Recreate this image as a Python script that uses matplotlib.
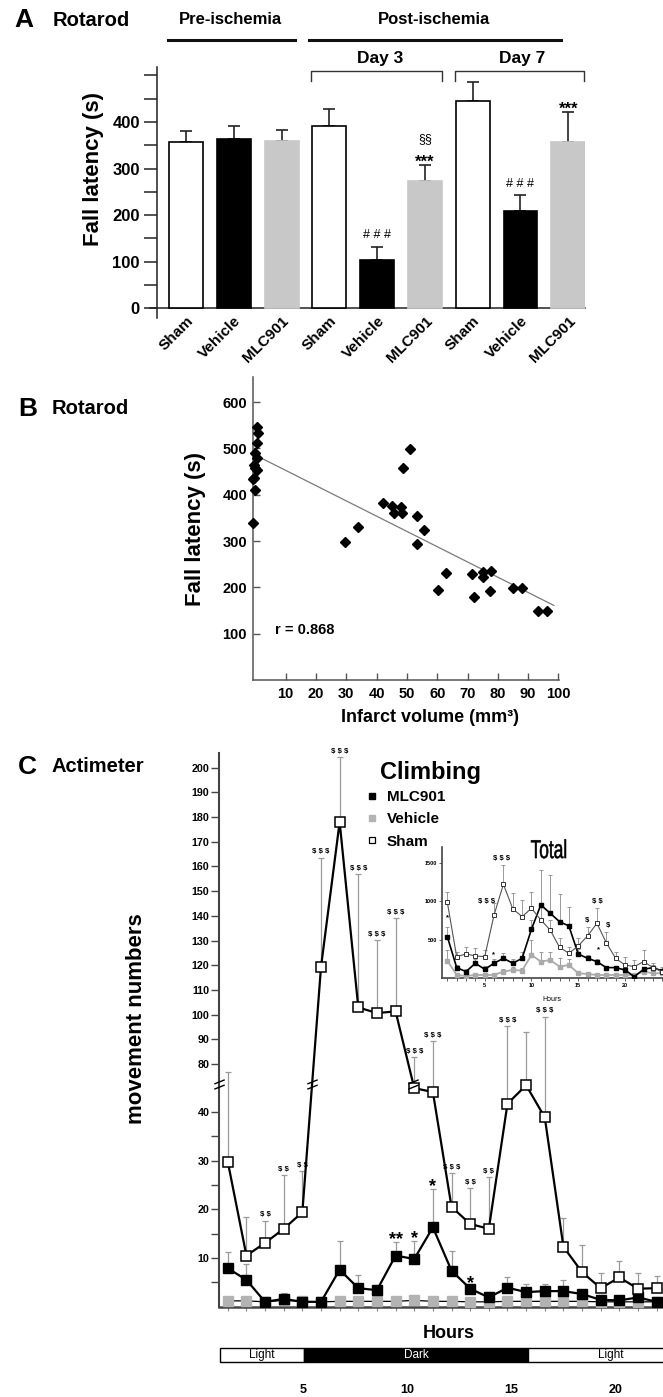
import numpy as np
import matplotlib
matplotlib.use("Agg")
import matplotlib.pyplot as plt
from matplotlib.font_manager import FontProperties
from matplotlib.lines import Line2D
from matplotlib.patches import PathPatch, Rectangle
from matplotlib.path import Path
from matplotlib.textpath import TextPath
from matplotlib.transforms import Affine2D, ScaledTranslation

W, H, DPI = 663, 1397, 100

# panel A: rotarod, fall latency per group
a_groups = ["Sham", "Vehicle", "MLC901"] * 3
a_means = [356, 363, 359, 391, 104, 274, 444, 209, 356]
a_sem = [25, 29, 24, 37, 28, 33, 42, 34, 65]
a_colors = ["white", "black", "#c8c8c8"] * 3
a_hash = [4, 7]
a_star = [5, 8]
a_sect = [5]

# panel B: fall latency vs infarct volume
b_volume = [0.5, 1.0, 0.5, 0.0, 0.5, -0.5, 0.0, 0.5, -0.5, -0.7, 0.0, -0.7,
            29.6, 34.0, 42.0, 45.0, 45.7, 47.9, 48.3, 48.6, 51.0, 53.2, 53.2,
            55.7, 60.4, 62.9, 71.6, 72.0, 75.0, 75.2, 77.8, 77.4, 84.9, 87.9,
            93.4, 96.1]
b_latency = [547, 533, 511, 490, 479, 464, 457, 453, 437, 433, 410, 338,
             298, 330, 382, 375, 361, 374, 361, 458, 499, 354, 293,
             323, 195, 231, 228, 180, 223, 234, 236, 193, 199, 199,
             150, 150]
b_fit_x = [0.4, 98.5]
b_fit_y = [484, 161]

# panel C: climbing per hour
hours = np.arange(1, 25)
sham = [29.8, 10.5, 13.1, 16.0, 19.4, 119.3, 178.0, 102.9, 100.6, 101.3, 44.9, 44.1,
        20.5, 17.0, 16.0, 41.7, 45.5, 38.9, 12.3, 7.1, 3.8, 6.0, 3.7, 3.8]
sham_err = [46.8, 7.9, 4.6, 11.1, 8.5, 44.3, 26.3, 53.9, 29.5, 37.8, 37.8, 45.2,
            6.9, 7.4, 10.7, 53.7, 47.6, 60.3, 6.0, 5.6, 3.1, 3.4, 3.2, 2.5]
mlc = [7.9, 5.5, 1.0, 1.6, 1.0, 1.0, 7.6, 3.8, 3.4, 10.5, 9.8, 16.3,
       7.4, 3.7, 1.9, 3.9, 3.0, 3.2, 3.2, 2.6, 1.4, 1.3, 1.9, 1.0]
mlc_err = [3.3, 3.3, 0.0, 1.2, 0.6, 0.0, 5.8, 2.7, 0.0, 2.7, 3.6, 7.8,
           4.0, 0.5, 1.1, 2.2, 1.7, 1.5, 2.2, 0.0, 0.0, 0.0, 0.0, 0.0]
veh = [1.2, 1.2, 1.0, 1.3, 1.1, 1.0, 1.1, 1.1, 1.1, 1.1, 1.3, 1.1,
       1.1, 1.0, 1.0, 1.1, 1.1, 1.1, 1.1, 1.1, 1.0, 1.0, 1.0, 1.0]
veh_err = [0.6, 0.5, 0.4, 1.4, 0.5, 0.4, 0.5, 0.4, 0.4, 0.4, 0.6, 0.5,
           0.5, 0.4, 0.4, 0.4, 0.4, 0.4, 0.5, 0.4, 0.4, 0.4, 0.4, 0.4]
sham_sig = {3: "$ $", 4: "$ $", 5: "$ $", 6: "$ $ $", 7: "$ $ $", 8: "$ $ $",
            9: "$ $ $", 10: "$ $ $", 11: "$ $ $", 12: "$ $ $", 13: "$ $ $",
            14: "$ $", 15: "$ $", 16: "$ $ $", 18: "$ $ $"}
mlc_sig = {10: "**", 11: "*", 12: "*", 14: "*"}

# inset: total movements per hour
tot_sham = [987, 281, 316, 290, 281, 823, 1221, 901, 801, 909, 758, 628,
            403, 325, 420, 550, 714, 463, 260, 173, 152, 217, 139, 87]
tot_sham_err = [139, 65, 87, 100, 87, 151, 251, 203, 217, 217, 195, 130,
                117, 86, 100, 121, 195, 143, 86, 108, 86, 151, 56, 65]
tot_mlc = [541, 139, 87, 195, 117, 195, 260, 195, 260, 637, 953, 845,
           736, 680, 316, 260, 217, 139, 139, 108, 22, 117, 139, 95]
tot_mlc_err = [121, 40, 30, 60, 40, 60, 70, 60, 80, 120, 454, 497,
               360, 251, 60, 40, 30, 20, 20, 20, 10, 30, 40, 20]
tot_veh = [229, 43, 30, 43, 43, 43, 87, 108, 100, 303, 217, 238,
           152, 173, 65, 56, 43, 43, 43, 43, 43, 87, 65, 65]
tot_veh_err = [139, 20, 20, 20, 20, 20, 40, 40, 40, 195, 130, 100,
               110, 80, 20, 20, 20, 20, 20, 20, 20, 30, 20, 20]
tot_marks = [(1.0, 792, "*"), (5.2, 996, "$ $ $"), (6.8, 1560, "$ $ $"),
             (5.9, 303, "*"), (15.9, 745, "$"), (17.0, 996, "$ $"),
             (18.2, 680, "$"), (17.2, 377, "*")]

# light / dark cycle strip
cycle_edges = [1.0, 5.05, 15.8, 23.8]
cycle_names = ["Light", "Dark", "Light"]
cycle_ticks = [5, 10, 15, 20]

# broken y axis of panel C
BRK_LO, BRK_HI, BRK_RATIO = 45.75, 71.9, 0.5072
_xp = np.array([-1e4, BRK_LO, BRK_HI, 1e4])
_fp = np.array([-1e4, BRK_LO, BRK_LO + 0.01, BRK_LO + 0.01 + (1e4 - BRK_HI) * BRK_RATIO])


def squash(v):
    return np.interp(v, _xp, _fp)


def unsquash(v):
    return np.interp(v, _fp, _xp)


plt.rcParams["font.family"] = ["Liberation Sans", "DejaVu Sans"]


def px_axes(fig, left, top, right, bottom):
    return fig.add_axes([left / W, 1 - bottom / H, (right - left) / W, (bottom - top) / H])


def px_text(fig, x, y, s, **kw):
    return fig.text(x / W, 1 - y / H, s, **kw)


def px_line(fig, xs, ys, **kw):
    fig.add_artist(Line2D([x / W for x in xs], [1 - y / H for y in ys],
                          transform=fig.transFigure, **kw))


def squeezed_text(fig, cx, cy, s, width, height):
    # narrow lettering: outline of the text stretched into a box, in pixels
    tp = TextPath((0, 0), s, size=100, prop=FontProperties(family="Liberation Sans"))
    bb = tp.get_extents()
    tr = (Affine2D().translate(-bb.x0 - bb.width / 2, -bb.y0 - bb.height / 2)
          .scale(width / bb.width, height / bb.height).translate(cx, H - cy))
    fig.add_artist(PathPatch(tp, transform=tr, facecolor="black", edgecolor="black", lw=0.4))


def bold_ticks(ax):
    for lab in ax.get_xticklabels() + ax.get_yticklabels():
        lab.set_fontweight("bold")


def draw_panel_a(fig):
    ax = px_axes(fig, 150, 67, 585, 318)
    x = np.arange(len(a_groups))
    edges = ["black" if c == "white" else c for c in a_colors]
    ax.errorbar(x, a_means, yerr=[np.zeros(len(x)), a_sem], fmt="none",
                ecolor="#222222", elinewidth=1.2, capsize=4, capthick=1.2, zorder=2)
    ax.bar(x, a_means, width=0.71, color=a_colors, edgecolor=edges, linewidth=1.2, zorder=3)

    ax.set_xlim(-0.754, 8.35)
    ax.set_ylim(-21, 518)
    for s in ("top", "right"):
        ax.spines[s].set_visible(False)
    ax.spines["left"].set_position(("data", -0.6))
    ax.spines["bottom"].set_position(("data", 0))
    for s in ("left", "bottom"):
        ax.spines[s].set_linewidth(1.1)
        ax.spines[s].set_color("#222222")

    ax.set_yticks([0, 100, 200, 300, 400])
    ax.set_yticks([50, 150, 250, 350, 450, 500], minor=True)
    ax.tick_params(axis="y", which="both", direction="out", length=9.5, width=1.1,
                   labelsize=12, pad=3, color="#222222")
    ax.set_xticks(x)
    ax.set_xticklabels(a_groups, rotation=45, ha="right", va="top", fontsize=11)
    ax.tick_params(axis="x", length=0, pad=4)
    bold_ticks(ax)
    shift = ScaledTranslation(10 / DPI, 0, fig.dpi_scale_trans)
    for lab in ax.get_xticklabels():
        lab.set_transform(lab.get_transform() + shift)

    tops = np.array(a_means) + np.array(a_sem)
    for i in a_hash:
        ax.annotate("# # #", (i, tops[i]), xytext=(0, 6), textcoords="offset points",
                    ha="center", va="baseline", fontsize=9)
    for i in a_star:
        ax.annotate("***", (i, tops[i]), xytext=(0, -1), textcoords="offset points",
                    ha="center", va="baseline", fontsize=12, fontweight="bold")
    for i in a_sect:
        ax.annotate("§§", (i, tops[i]), xytext=(0, 16.5), textcoords="offset points",
                    ha="center", va="baseline", fontsize=9)

    px_text(fig, 14.8, 20, "A", fontsize=19, fontweight="bold", ha="left", va="center")
    px_text(fig, 52.9, 20, "Rotarod", fontsize=14.5, fontweight="bold", ha="left", va="center")
    px_text(fig, 230.4, 19, "Pre-ischemia", fontsize=12, fontweight="bold", ha="center", va="center")
    px_text(fig, 434.2, 19, "Post-ischemia", fontsize=12, fontweight="bold", ha="center", va="center")
    px_line(fig, [168.3, 294.7], [40.3, 40.3], lw=2.2, color="#111111")
    px_line(fig, [308.7, 561.1], [40.3, 40.3], lw=2.2, color="#111111")
    px_text(fig, 380.5, 58.3, "Day 3", fontsize=12.5, fontweight="bold", ha="center", va="center")
    px_text(fig, 522.2, 58.3, "Day 7", fontsize=12.5, fontweight="bold", ha="center", va="center")
    px_line(fig, [310.8, 310.8, 441.9, 441.9], [81, 71, 71, 81], lw=1, color="#333333")
    px_line(fig, [454.5, 454.5, 583.5, 583.5], [81, 71, 71, 81], lw=1, color="#333333")
    px_text(fig, 93, 169, "Fall latency (s)", rotation=90, fontsize=16, fontweight="bold",
            ha="center", va="center")


def draw_panel_b(fig):
    ax = px_axes(fig, 253.3, 377, 559, 680)
    ax.plot(b_fit_x, b_fit_y, color="#7a7a7a", lw=0.9, zorder=2)
    ax.plot(b_volume, b_latency, ls="none", marker="D", ms=5.5, color="black",
            zorder=3, clip_on=False)
    ax.set_xlim(-0.7, 100.2)
    ax.set_ylim(0, 654)
    for s in ("top", "right"):
        ax.spines[s].set_visible(False)
    for s in ("left", "bottom"):
        ax.spines[s].set_linewidth(1.1)
        ax.spines[s].set_color("#555555")
    ax.set_xticks(range(10, 101, 10))
    ax.set_yticks(range(100, 601, 100))
    ax.tick_params(direction="in", length=5, width=1, color="#555555", labelsize=10.5)
    ax.tick_params(axis="y", pad=4.5)
    ax.tick_params(axis="x", pad=5)
    bold_ticks(ax)
    ax.text(6.5, 108, "r = 0.868", ha="left", va="center", fontsize=10.5, fontweight="bold")

    px_text(fig, 18, 409, "B", fontsize=19, fontweight="bold", ha="left", va="center")
    px_text(fig, 52, 409, "Rotarod", fontsize=14.5, fontweight="bold", ha="left", va="center")
    px_text(fig, 196, 529, "Fall latency (s)", rotation=90, fontsize=16, fontweight="bold",
            ha="center", va="center")
    px_text(fig, 430, 717.7, "Infarct volume (mm³)", fontsize=13, fontweight="bold",
            ha="center", va="center")


def draw_panel_c(fig):
    ax = px_axes(fig, 219, 753, 663, 1306.7)
    ax.set_yscale("function", functions=(squash, unsquash))
    ax.set_xlim(0.53, 24.34)
    ax.set_ylim(0, 205.95)
    zeros = np.zeros(len(hours))
    for vals, err in ((sham, sham_err), (mlc, mlc_err), (veh, veh_err)):
        ax.errorbar(hours, vals, yerr=[zeros, err], fmt="none", ecolor="#9a9a9a",
                    elinewidth=0.9, capsize=2.2, capthick=0.9, zorder=1)
    ax.plot(hours, veh, color="black", lw=0.9, marker="s", ms=6.5,
            mfc="#b3b3b3", mec="#b3b3b3", zorder=3)
    ax.plot(hours, mlc, color="black", lw=1.6, marker="s", ms=6.5,
            mfc="black", mec="black", zorder=4)
    ax.plot(hours, sham, color="black", lw=1.6, marker="s", ms=6.5,
            mfc="white", mec="black", mew=1.1, zorder=5)

    for s in ("top", "right"):
        ax.spines[s].set_visible(False)
    ax.spines["left"].set_linewidth(1.5)
    ax.spines["bottom"].set_linewidth(1.8)
    for s in ("left", "bottom"):
        ax.spines[s].set_color("#444444")
    yt = [10, 20, 30, 40] + list(range(80, 201, 10))
    ax.set_yticks(yt)
    ax.set_yticklabels([str(v) for v in yt])
    ax.set_yticks([5, 15, 25, 35], minor=True)
    ax.tick_params(axis="y", which="both", direction="out", length=5.8, width=1,
                   color="#444444", labelsize=7.7, pad=1)
    ax.set_xticks(hours)
    ax.set_xticklabels([])
    ax.tick_params(axis="x", direction="out", length=3, width=0.8, color="#888888")
    bold_ticks(ax)

    # break marks on the axis and on the sham line
    mark = Path([(-1, -0.9), (1, -0.1), (-1, 0.1), (1, 0.9)],
                [Path.MOVETO, Path.LINETO, Path.MOVETO, Path.LINETO])
    mid = BRK_LO + 0.005
    tf = squash(np.array(sham))
    bx = [ax.get_xlim()[0]]
    for i in range(len(hours) - 1):
        if (tf[i] - mid) * (tf[i + 1] - mid) < 0:
            bx.append(hours[i] + (mid - tf[i]) / (tf[i + 1] - tf[i]))
    ax.plot(bx, [unsquash(mid)] * len(bx), ls="none", marker=mark, ms=7.5,
            mew=1.0, mec="black", zorder=6, clip_on=False)

    tops_s = np.array(sham) + np.array(sham_err)
    for h, txt in sham_sig.items():
        ax.annotate(txt, (h, tops_s[h - 1]), xytext=(0, 3), textcoords="offset points",
                    ha="center", va="baseline", fontsize=5.6, fontweight="bold",
                    parse_math=False)
    tops_m = np.array(mlc) + np.array(mlc_err)
    for h, txt in mlc_sig.items():
        ax.annotate(txt, (h, tops_m[h - 1]), xytext=(0, -1), textcoords="offset points",
                    ha="center", va="baseline", fontsize=13, fontweight="bold")

    handles = [
        Line2D([], [], ls="none", marker="s", ms=5, mfc="black", mec="black"),
        Line2D([], [], ls="none", marker="s", ms=5, mfc="#b3b3b3", mec="#b3b3b3"),
        Line2D([], [], ls="none", marker="s", ms=5, mfc="white", mec="black", mew=0.9),
    ]
    ax.legend(handles, ["MLC901", "Vehicle", "Sham"], loc="upper left",
              bbox_to_anchor=(366 / W, 1 - 790 / H), bbox_transform=fig.transFigure,
              frameon=False, prop={"weight": "bold", "size": 11}, handlelength=0.8,
              handletextpad=0.55, labelspacing=0.54, borderpad=0, borderaxespad=0)
    px_text(fig, 430.7, 772.7, "Climbing", fontsize=17, fontweight="bold",
            ha="center", va="center")

    px_text(fig, 18, 767.5, "C", fontsize=19, fontweight="bold", ha="left", va="center")
    px_text(fig, 52, 767, "Actimeter", fontsize=14.5, fontweight="bold", ha="left", va="center")
    px_text(fig, 136.5, 1018.5, "movement numbers", rotation=90, fontsize=16,
            fontweight="bold", ha="center", va="center")


def draw_inset(fig):
    ax = px_axes(fig, 442, 847, 663, 978.3)
    ax.patch.set_alpha(0)
    ax.set_xlim(0.43, 24.07)
    ax.set_ylim(0, 1705)
    zeros = np.zeros(len(hours))
    for vals, err in ((tot_sham, tot_sham_err), (tot_mlc, tot_mlc_err), (tot_veh, tot_veh_err)):
        ax.errorbar(hours, vals, yerr=[zeros, err], fmt="none", ecolor="#8a8a8a",
                    elinewidth=0.6, capsize=1.2, capthick=0.6, zorder=1)
    ax.plot(hours, tot_veh, color="#aaaaaa", lw=1.3, marker="s", ms=3.4,
            mfc="#aaaaaa", mec="#aaaaaa", zorder=3)
    ax.plot(hours, tot_mlc, color="black", lw=1.2, marker="s", ms=3.4,
            mfc="black", mec="black", zorder=4)
    ax.plot(hours, tot_sham, color="#555555", lw=0.8, marker="s", ms=3.4,
            mfc="white", mec="#333333", mew=0.7, zorder=5)
    for x, y, txt in tot_marks:
        ax.text(x, y, txt, ha="center", va="center", fontsize=5.5, fontweight="bold",
                parse_math=False)

    for s in ("top", "right"):
        ax.spines[s].set_visible(False)
    for s in ("left", "bottom"):
        ax.spines[s].set_linewidth(1.2)
        ax.spines[s].set_color("#444444")
    ax.set_xticks([5, 10, 15, 20])
    ax.set_xticks(hours, minor=True)
    ax.set_yticks([500, 1000, 1500])
    ax.tick_params(which="both", direction="out", length=2, width=0.6,
                   color="#444444", labelsize=4, pad=1.5)
    bold_ticks(ax)

    squeezed_text(fig, 548.5, 848.8, "Total", 35, 19)
    px_text(fig, 552, 999.3, "Hours", fontsize=5, ha="center", va="center")


def draw_cycle(fig):
    ax = px_axes(fig, 220, 1347.7, 663, 1362.3)
    ax.set_xlim(1.0, 22.3)
    ax.set_ylim(0, 1)
    for x0, x1, name in zip(cycle_edges[:-1], cycle_edges[1:], cycle_names):
        dark = name == "Dark"
        ax.add_patch(Rectangle((x0, 0), x1 - x0, 1, facecolor="black" if dark else "white",
                               edgecolor="black", lw=1, clip_on=False))
        ax.text((x0 + x1) / 2, 0.5, name, ha="center", va="center", fontsize=8.5,
                color="white" if dark else "black")
    for s in ax.spines.values():
        s.set_visible(False)
    ax.set_yticks([])
    ax.set_xticks(cycle_ticks)
    ax.tick_params(axis="x", length=0, pad=15.5, labelsize=9)
    bold_ticks(ax)
    px_text(fig, 449, 1334, "Hours", fontsize=13, fontweight="bold", ha="center", va="center")


fig = plt.figure(figsize=(W / DPI, H / DPI), dpi=DPI)
draw_panel_a(fig)
draw_panel_b(fig)
draw_panel_c(fig)
draw_inset(fig)
draw_cycle(fig)
fig.savefig("out.png", dpi=DPI)
plt.close(fig)
